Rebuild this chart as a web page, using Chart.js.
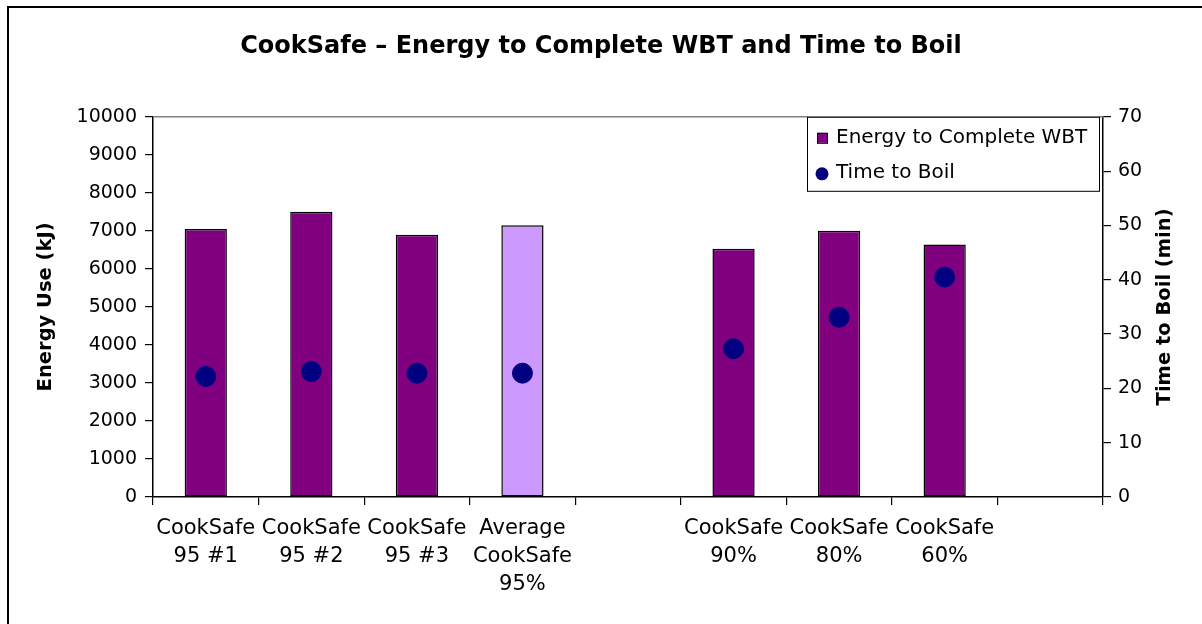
<!DOCTYPE html>
<html>
<head>
<meta charset="utf-8">
<script src="https://cdn.jsdelivr.net/npm/chart.js@4.4.1/dist/chart.umd.min.js"></script>
<style>
  body { margin: 0; background: #fff; overflow: hidden; }
  #chart { position: absolute; left: 0; top: 0; }
</style>
</head>
<body>
<canvas id="chart" width="1202" height="624"></canvas>
<script>
// 数据
const categories = [
  ['CookSafe', '95 #1'], ['CookSafe', '95 #2'], ['CookSafe', '95 #3'],
  ['Average', 'CookSafe', '95%'], '',
  ['CookSafe', '90%'], ['CookSafe', '80%'], ['CookSafe', '60%'], ''
];
const energyKJ = [7050, 7500, 6900, 7150, null, 6530, 7000, 6640, null];
const boilMin = [22.2, 23.1, 22.8, 22.8, null, 27.3, 33.1, 40.5, null];
const energyTicks = { min: 0, max: 10000, step: 1000 };
const boilTicks = { min: 0, max: 70, step: 10 };

const FONT = "'DejaVu Sans', sans-serif";
const PLOT = { left: 153, right: 1103, top: 117, bottom: 497 };

// 外框、图内图例、右轴标题、绘图区上边框
const extras = {
  id: 'extras',
  beforeDraw(chart) {
    const { ctx } = chart;
    ctx.save();
    ctx.strokeStyle = '#000';
    ctx.lineWidth = 2;
    ctx.beginPath();
    ctx.moveTo(1202, 7);
    ctx.lineTo(8, 7);
    ctx.lineTo(8, 624);
    ctx.stroke();
    ctx.restore();
  },
  beforeDatasetsDraw(chart) {
    const { ctx, chartArea } = chart;
    ctx.save();
    ctx.strokeStyle = '#808080';
    ctx.lineWidth = 1.5;
    ctx.beginPath();
    ctx.moveTo(chartArea.left, chartArea.top);
    ctx.lineTo(chartArea.right, chartArea.top);
    ctx.stroke();
    ctx.restore();
  },
  afterDraw(chart) {
    const { ctx, chartArea } = chart;
    ctx.save();
    // 右轴标题（自下而上）
    ctx.translate(1165, (chartArea.top + chartArea.bottom) / 2);
    ctx.rotate(-Math.PI / 2);
    ctx.font = "bold 19.5px " + FONT;
    ctx.fillStyle = '#000';
    ctx.textAlign = 'center';
    ctx.textBaseline = 'middle';
    ctx.fillText('Time to Boil (min)', 0, 0);
    ctx.restore();

    // 图例
    const bx = chartArea.right - 296, by = chartArea.top, bw = 292, bh = 74;
    ctx.save();
    ctx.fillStyle = '#fff';
    ctx.fillRect(bx, by, bw, bh);
    ctx.strokeStyle = '#000';
    ctx.lineWidth = 1;
    ctx.strokeRect(bx + 0.5, by + 0.5, bw, bh);
    ctx.fillStyle = '#800080';
    ctx.fillRect(bx + 10, by + 16, 10, 10);
    ctx.strokeRect(bx + 10.5, by + 16.5, 10, 10);
    ctx.fillStyle = '#000080';
    ctx.beginPath();
    ctx.arc(bx + 15, by + 57, 6.5, 0, Math.PI * 2);
    ctx.fill();
    ctx.fillStyle = '#000';
    ctx.font = "20px " + FONT;
    ctx.textBaseline = 'middle';
    ctx.fillText('Energy to Complete WBT', bx + 29, by + 21);
    ctx.fillText('Time to Boil', bx + 29, by + 56);
    ctx.restore();
  }
};

new Chart(document.getElementById('chart').getContext('2d'), {
  data: {
    labels: categories,
    datasets: [
      {
        type: 'line',
        label: 'Time to Boil',
        data: boilMin,
        yAxisID: 'y1',
        showLine: false,
        pointRadius: 10,
        pointBackgroundColor: '#000080',
        pointBorderColor: '#000080',
        order: 0
      },
      {
        type: 'bar',
        label: 'Energy to Complete WBT',
        data: energyKJ,
        yAxisID: 'y',
        backgroundColor: (c) => String(categories[c.dataIndex]).startsWith('Average') ? '#CC99FF' : '#800080',
        borderColor: '#000',
        borderWidth: 1.5,
        borderSkipped: false,
        barPercentage: 0.4,
        categoryPercentage: 1.0,
        order: 1
      }
    ]
  },
  options: {
    responsive: false,
    animation: false,
    layout: { padding: 0 },
    plugins: {
      legend: { display: false },
      tooltip: { enabled: false },
      title: {
        display: true,
        text: 'CookSafe \u2013 Energy to Complete WBT and Time to Boil',
        color: '#000',
        font: { family: FONT, size: 24, weight: 'bold', lineHeight: 1.2 },
        padding: { top: 32, bottom: 56 }
      }
    },
    scales: {
      x: {
        grid: { drawOnChartArea: false, tickLength: 8, color: '#000', lineWidth: 1.2, offset: true },
        border: { color: '#000', width: 1.5 },
        ticks: {
          color: '#000', padding: 10, maxRotation: 0, autoSkip: false,
          font: { family: FONT, size: 21, lineHeight: 1.33 }
        },
        afterFit: (s) => { s.height = 624 - PLOT.bottom; }
      },
      y: {
        position: 'left',
        min: energyTicks.min, max: energyTicks.max,
        ticks: {
          stepSize: energyTicks.step, color: '#000', padding: 8,
          font: { family: FONT, size: 19 },
          callback: (v) => String(v)
        },
        grid: { drawOnChartArea: false, tickLength: 8, color: '#000', lineWidth: 1.2 },
        border: { color: '#000', width: 1.5 },
        title: {
          display: true, text: 'Energy Use (kJ)', color: '#000',
          font: { family: FONT, size: 19.5, weight: 'bold', lineHeight: 1.2 },
          padding: { top: 34, bottom: 0 }
        },
        afterFit: (s) => { s.width = PLOT.left; }
      },
      y1: {
        position: 'right',
        min: boilTicks.min, max: boilTicks.max,
        ticks: {
          stepSize: boilTicks.step, color: '#000', padding: 7,
          font: { family: FONT, size: 19 },
          callback: (v) => String(v)
        },
        grid: { drawOnChartArea: false, tickLength: 8, color: '#000', lineWidth: 1.2 },
        border: { color: '#000', width: 1.5 },
        afterFit: (s) => { s.width = 1202 - PLOT.right; }
      }
    }
  },
  plugins: [extras]
});
</script>
</body>
</html>
